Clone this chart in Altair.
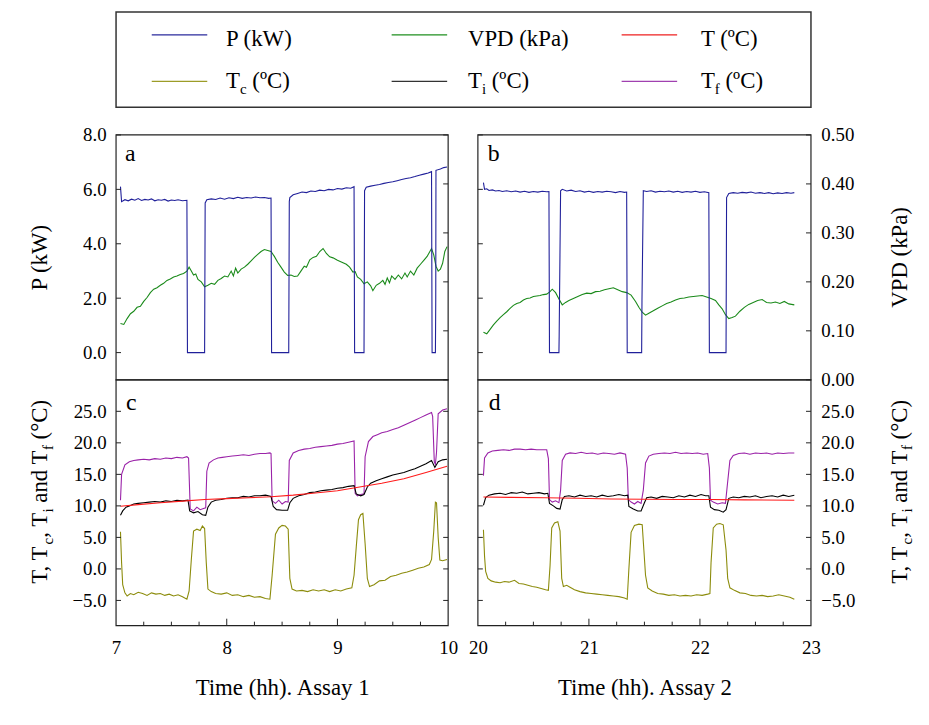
import altair as alt
import pandas as pd

FONT = "Liberation Serif"

# ---------------- data ----------------
# Assay 1 (panels a and c), time in hours
A_P_T = [7.04, 7.05, 7.08, 7.11, 7.14, 7.17, 7.20, 7.23, 7.26, 7.29, 7.32, 7.35, 7.38, 7.41, 7.44, 7.47, 7.50, 7.53, 7.56, 7.60, 7.64,
         7.645, 7.80, 7.805, 7.82, 7.86, 7.90, 7.94, 7.98, 8.02, 8.06, 8.10, 8.14, 8.18, 8.22, 8.26, 8.30, 8.34, 8.38, 8.40,
         8.405, 8.56, 8.565, 8.57, 8.60, 8.64, 8.68, 8.72, 8.76, 8.80, 8.84, 8.88, 8.92, 8.96, 9.00, 9.04, 9.08, 9.12, 9.15,
         9.155, 9.24, 9.245, 9.26, 9.30, 9.34, 9.38, 9.42, 9.46, 9.50, 9.54, 9.58, 9.62, 9.66, 9.70, 9.74, 9.78, 9.82, 9.85,
         9.855, 9.885, 9.888, 9.89, 9.93, 9.96, 9.99]
A_P = [6.10, 5.55, 5.62, 5.58, 5.64, 5.60, 5.66, 5.59, 5.63, 5.61, 5.65, 5.58, 5.62, 5.60, 5.63, 5.57, 5.61, 5.59, 5.62, 5.58, 5.60,
       0.0, 0.0, 5.50, 5.62, 5.65, 5.63, 5.68, 5.64, 5.69, 5.66, 5.71, 5.67, 5.70, 5.68, 5.72, 5.69, 5.70, 5.67, 5.68,
       0.0, 0.0, 5.55, 5.70, 5.80, 5.85, 5.90, 5.88, 5.94, 5.92, 5.97, 5.95, 6.00, 5.98, 6.03, 6.01, 6.06, 6.04, 6.10,
       0.0, 0.0, 5.95, 6.08, 6.12, 6.15, 6.18, 6.22, 6.25, 6.28, 6.32, 6.36, 6.40, 6.43, 6.47, 6.52, 6.56, 6.60, 6.65,
       0.0, 0.0, 1.90, 6.70, 6.75, 6.80, 6.82]

A_VPD_T = [7.04, 7.07, 7.10, 7.13, 7.16, 7.19, 7.22, 7.25, 7.28, 7.31, 7.34, 7.37, 7.40, 7.43, 7.46, 7.49, 7.52, 7.55, 7.58, 7.61,
           7.64, 7.66, 7.68, 7.70, 7.72, 7.74, 7.77, 7.80, 7.83, 7.86, 7.89, 7.92, 7.95, 7.98, 8.01, 8.04, 8.06, 8.08, 8.10,
           8.13, 8.16, 8.19, 8.22, 8.25, 8.28, 8.31, 8.34, 8.37, 8.40, 8.43, 8.46, 8.49, 8.52, 8.55, 8.58, 8.61, 8.64, 8.67,
           8.70, 8.72, 8.75, 8.78, 8.81, 8.84, 8.87, 8.90, 8.93, 8.96, 9.00, 9.04, 9.08, 9.11, 9.14, 9.16, 9.18, 9.21, 9.24,
           9.27, 9.30, 9.32, 9.35, 9.38, 9.41, 9.43, 9.45, 9.47, 9.49, 9.52, 9.55, 9.58, 9.61, 9.63, 9.66, 9.69, 9.72, 9.75,
           9.78, 9.81, 9.83, 9.85, 9.87, 9.89, 9.91, 9.93, 9.95, 9.97, 9.99]
A_VPD = [0.115, 0.113, 0.125, 0.135, 0.140, 0.148, 0.150, 0.160, 0.168, 0.178, 0.185, 0.188, 0.193, 0.197, 0.203, 0.206, 0.210,
         0.212, 0.215, 0.217, 0.222, 0.230, 0.222, 0.214, 0.216, 0.205, 0.200, 0.190, 0.193, 0.197, 0.195, 0.203, 0.207, 0.212,
         0.210, 0.222, 0.212, 0.228, 0.218, 0.226, 0.230, 0.236, 0.243, 0.250, 0.256, 0.262, 0.266, 0.264, 0.262, 0.252, 0.240,
         0.230, 0.220, 0.213, 0.214, 0.211, 0.212, 0.222, 0.232, 0.230, 0.245, 0.250, 0.252, 0.262, 0.268, 0.258, 0.251, 0.249,
         0.244, 0.240, 0.236, 0.230, 0.220, 0.221, 0.210, 0.205, 0.196, 0.200, 0.192, 0.182, 0.193, 0.197, 0.203, 0.195, 0.208,
         0.198, 0.212, 0.205, 0.214, 0.206, 0.218, 0.210, 0.222, 0.214, 0.228, 0.236, 0.244, 0.252, 0.260, 0.268, 0.255, 0.232,
         0.222, 0.226, 0.238, 0.262, 0.272]

A_TF_T = [7.04, 7.05, 7.08, 7.12, 7.16, 7.20, 7.25, 7.30, 7.35, 7.40, 7.45, 7.50, 7.55, 7.60, 7.64, 7.655, 7.67, 7.70, 7.73, 7.76,
          7.79, 7.81, 7.82, 7.84, 7.88, 7.92, 7.96, 8.00, 8.05, 8.10, 8.15, 8.20, 8.25, 8.30, 8.35, 8.39, 8.40, 8.41, 8.44,
          8.47, 8.50, 8.53, 8.555, 8.565, 8.60, 8.65, 8.70, 8.75, 8.80, 8.85, 8.90, 8.95, 9.00, 9.05, 9.10, 9.15, 9.16, 9.18,
          9.21, 9.24, 9.25, 9.28, 9.32, 9.36, 9.40, 9.45, 9.50, 9.55, 9.60, 9.65, 9.70, 9.75, 9.80, 9.85, 9.86, 9.875, 9.885,
          9.895, 9.91, 9.95, 9.99]
A_TF = [10.9, 15.0, 16.5, 17.0, 17.2, 17.3, 17.4, 17.3, 17.5, 17.4, 17.6, 17.5, 17.7, 17.6, 17.8, 17.6, 9.5, 9.2, 9.8, 9.4,
        9.6, 9.7, 15.5, 16.8, 17.3, 17.6, 17.7, 17.8, 17.9, 18.0, 18.1, 18.0, 18.2, 18.3, 18.3, 18.4, 18.3, 10.8, 10.4,
        10.9, 10.3, 10.7, 10.6, 17.2, 18.4, 18.8, 19.0, 19.1, 19.3, 19.4, 19.5, 19.6, 19.8, 19.9, 20.1, 20.3, 12.0, 11.6,
        11.8, 11.9, 17.8, 20.2, 21.0, 21.3, 21.6, 21.8, 22.1, 22.4, 22.8, 23.2, 23.6, 24.0, 24.4, 24.8, 24.2, 17.0, 16.6,
        18.5, 24.6, 25.2, 25.4]

A_TI_T = [7.04, 7.06, 7.09, 7.12, 7.16, 7.20, 7.25, 7.30, 7.35, 7.40, 7.45, 7.50, 7.55, 7.60, 7.65, 7.665, 7.70, 7.74, 7.78, 7.81,
          7.83, 7.86, 7.90, 7.95, 8.00, 8.05, 8.10, 8.15, 8.20, 8.25, 8.30, 8.35, 8.40, 8.42, 8.45, 8.50, 8.55, 8.57, 8.60,
          8.65, 8.70, 8.75, 8.80, 8.85, 8.90, 8.95, 9.00, 9.05, 9.10, 9.15, 9.17, 9.21, 9.24, 9.27, 9.30, 9.35, 9.40, 9.45,
          9.50, 9.55, 9.60, 9.65, 9.70, 9.75, 9.80, 9.85, 9.88, 9.91, 9.95, 9.99]
A_TI = [8.5, 9.2, 9.8, 10.0, 10.3, 10.4, 10.5, 10.6, 10.7, 10.6, 10.8, 10.7, 10.9, 10.8, 10.9, 9.2, 8.9, 9.1, 8.6, 8.5,
        9.8, 10.6, 10.9, 11.0, 11.2, 11.3, 11.3, 11.5, 11.4, 11.6, 11.6, 11.7, 11.5, 9.9, 9.4, 9.3, 9.3, 10.5, 11.2,
        11.6, 11.8, 12.1, 12.2, 12.4, 12.5, 12.6, 12.8, 12.9, 13.1, 13.2, 11.9, 11.6, 11.8, 13.0, 13.6, 14.0, 14.3, 14.6,
        14.9, 15.1, 15.3, 15.6, 15.9, 16.3, 16.7, 17.2, 16.1, 17.0, 17.3, 17.4]

A_T_T = [7.04, 7.2, 7.4, 7.6, 7.8, 8.0, 8.2, 8.4, 8.6, 8.8, 9.0, 9.2, 9.4, 9.6, 9.8, 9.99]
A_T = [9.95, 10.2, 10.5, 10.75, 11.0, 11.15, 11.3, 11.45, 11.7, 12.05, 12.4, 13.0, 13.6, 14.3, 15.3, 16.3]

A_TC_T = [7.04, 7.05, 7.06, 7.08, 7.10, 7.13, 7.16, 7.20, 7.24, 7.28, 7.32, 7.36, 7.40, 7.44, 7.48, 7.52, 7.56, 7.60, 7.64,
          7.66, 7.68, 7.70, 7.73, 7.76, 7.78, 7.80, 7.815, 7.83, 7.86, 7.90, 7.95, 8.00, 8.05, 8.10, 8.15, 8.20, 8.25,
          8.30, 8.35, 8.39, 8.41, 8.44, 8.47, 8.50, 8.53, 8.555, 8.57, 8.59, 8.63, 8.68, 8.73, 8.78, 8.83, 8.88, 8.93,
          8.98, 9.03, 9.08, 9.13, 9.15, 9.17, 9.19, 9.21, 9.23, 9.25, 9.27, 9.29, 9.33, 9.38, 9.43, 9.48, 9.53, 9.58,
          9.63, 9.68, 9.73, 9.78, 9.83, 9.85, 9.87, 9.885, 9.895, 9.91, 9.925, 9.95, 9.99]
A_TC = [5.9, 1.0, -2.5, -3.8, -4.3, -3.9, -4.1, -3.7, -3.9, -4.2, -3.8, -4.0, -3.9, -4.2, -4.0, -4.3, -4.1, -4.4, -4.8,
        -3.5, 1.5, 6.0, 6.3, 6.1, 6.8, 6.4, 1.0, -3.2, -3.6, -3.9, -4.0, -3.8, -4.2, -4.1, -4.4, -4.2, -4.5,
        -4.4, -4.7, -4.8, -1.0, 5.5, 6.5, 6.9, 6.8, 6.3, -1.5, -3.2, -3.5, -3.4, -3.6, -3.3, -3.5, -3.3, -3.6,
        -3.3, -3.5, -3.2, -3.0, -1.0, 3.5, 7.8, 8.6, 8.8, 4.0, -1.5, -2.8, -2.5, -1.9, -1.8, -1.2, -1.0, -0.7,
        -0.5, -0.2, 0.1, 0.3, 0.7, 1.5, 6.0, 10.6, 10.5, 5.0, 1.4, 1.3, 1.5]

# Assay 2 (panels b and d)
B_P_T = [20.05, 20.06, 20.08, 20.10, 20.13, 20.16, 20.19, 20.22, 20.26, 20.30, 20.34, 20.38, 20.42, 20.46, 20.50, 20.54, 20.58,
         20.62, 20.64, 20.645, 20.73, 20.732, 20.745, 20.76, 20.80, 20.84, 20.88, 20.92, 20.96, 21.00, 21.04, 21.08, 21.12,
         21.16, 21.20, 21.24, 21.28, 21.32, 21.34, 21.345, 21.475, 21.478, 21.49, 21.52, 21.56, 21.60, 21.64, 21.68, 21.72,
         21.76, 21.80, 21.84, 21.88, 21.92, 21.96, 22.00, 22.04, 22.08, 22.085, 22.235, 22.24, 22.26, 22.30, 22.34, 22.38,
         22.42, 22.46, 22.50, 22.54, 22.58, 22.62, 22.66, 22.70, 22.74, 22.78, 22.82, 22.85]
B_P = [6.25, 6.00, 6.02, 5.96, 5.98, 5.94, 5.96, 5.92, 5.95, 5.91, 5.94, 5.90, 5.93, 5.89, 5.92, 5.90, 5.93,
       5.91, 5.92, 0.0, 0.0, 0.6, 5.95, 6.00, 5.94, 5.97, 5.92, 5.95, 5.90, 5.93, 5.89, 5.92, 5.90,
       5.93, 5.91, 5.88, 5.92, 5.89, 5.90, 0.0, 0.0, 1.9, 5.95, 5.92, 5.95, 5.90, 5.93, 5.91, 5.94,
       5.90, 5.93, 5.89, 5.92, 5.90, 5.93, 5.89, 5.91, 5.88, 0.0, 0.0, 5.70, 5.85, 5.88, 5.86, 5.89,
       5.87, 5.90, 5.86, 5.88, 5.85, 5.88, 5.84, 5.87, 5.85, 5.88, 5.86, 5.88]

B_VPD_T = [20.05, 20.08, 20.11, 20.14, 20.17, 20.20, 20.23, 20.26, 20.29, 20.32, 20.35, 20.38, 20.41, 20.44, 20.47, 20.50,
           20.53, 20.56, 20.59, 20.62, 20.65, 20.67, 20.70, 20.73, 20.76, 20.79, 20.82, 20.86, 20.90, 20.94, 20.98, 21.02,
           21.06, 21.10, 21.14, 21.18, 21.22, 21.26, 21.30, 21.34, 21.38, 21.42, 21.45, 21.48, 21.51, 21.54, 21.58, 21.62,
           21.66, 21.70, 21.74, 21.78, 21.82, 21.86, 21.90, 21.94, 21.98, 22.02, 22.06, 22.10, 22.14, 22.17, 22.20, 22.23,
           22.26, 22.29, 22.32, 22.36, 22.40, 22.44, 22.48, 22.52, 22.56, 22.60, 22.64, 22.68, 22.72, 22.76, 22.80, 22.85]
B_VPD = [0.097, 0.094, 0.103, 0.112, 0.120, 0.127, 0.133, 0.139, 0.146, 0.152, 0.156, 0.158, 0.163, 0.166, 0.167, 0.170,
         0.171, 0.172, 0.174, 0.175, 0.180, 0.185, 0.178, 0.165, 0.153, 0.158, 0.162, 0.166, 0.170, 0.174, 0.177, 0.176,
         0.180, 0.181, 0.184, 0.186, 0.188, 0.184, 0.180, 0.178, 0.173, 0.160, 0.148, 0.138, 0.132, 0.136, 0.141, 0.146,
         0.151, 0.156, 0.159, 0.163, 0.166, 0.167, 0.169, 0.170, 0.171, 0.172, 0.169, 0.166, 0.162, 0.153, 0.145, 0.133,
         0.125, 0.127, 0.130, 0.140, 0.148, 0.154, 0.158, 0.162, 0.164, 0.158, 0.157, 0.159, 0.156, 0.160, 0.155, 0.153]

B_TF_T = [20.05, 20.06, 20.09, 20.13, 20.18, 20.23, 20.28, 20.33, 20.38, 20.43, 20.48, 20.53, 20.58, 20.62, 20.635, 20.645,
          20.67, 20.70, 20.73, 20.745, 20.76, 20.79, 20.83, 20.88, 20.93, 20.98, 21.03, 21.08, 21.13, 21.18, 21.23, 21.28,
          21.33, 21.345, 21.355, 21.38, 21.41, 21.44, 21.47, 21.49, 21.51, 21.54, 21.58, 21.63, 21.68, 21.73, 21.78, 21.83,
          21.88, 21.93, 21.98, 22.03, 22.07, 22.085, 22.095, 22.12, 22.16, 22.20, 22.23, 22.245, 22.27, 22.30, 22.35,
          22.40, 22.45, 22.50, 22.55, 22.60, 22.65, 22.70, 22.75, 22.80, 22.85]
B_TF = [14.8, 17.6, 18.4, 18.7, 18.8, 18.9, 18.8, 19.0, 19.0, 18.9, 19.0, 18.9, 18.9, 18.9, 17.5, 11.0,
        10.6, 10.8, 10.5, 12.5, 17.2, 18.2, 18.4, 18.3, 18.5, 18.3, 18.4, 18.2, 18.4, 18.3, 18.2, 18.4,
        18.2, 16.0, 11.0, 10.6, 10.3, 10.7, 10.4, 12.5, 16.8, 17.9, 18.2, 18.3, 18.4, 18.3, 18.5, 18.3,
        18.4, 18.3, 18.4, 18.2, 18.3, 16.0, 10.9, 10.6, 10.3, 10.5, 10.4, 13.0, 17.2, 18.0, 18.3,
        18.4, 18.2, 18.4, 18.3, 18.4, 18.2, 18.4, 18.3, 18.4, 18.4]

B_TI_T = [20.05, 20.07, 20.10, 20.15, 20.20, 20.25, 20.30, 20.35, 20.40, 20.45, 20.50, 20.55, 20.60, 20.63, 20.645, 20.68,
          20.71, 20.74, 20.76, 20.78, 20.82, 20.87, 20.92, 20.97, 21.02, 21.07, 21.12, 21.17, 21.22, 21.27, 21.32, 21.35,
          21.36, 21.40, 21.44, 21.47, 21.50, 21.52, 21.56, 21.61, 21.66, 21.71, 21.76, 21.81, 21.86, 21.91, 21.96, 22.01,
          22.05, 22.08, 22.095, 22.13, 22.17, 22.21, 22.235, 22.26, 22.30, 22.35, 22.40, 22.45, 22.50, 22.55, 22.60,
          22.65, 22.70, 22.75, 22.80, 22.85]
B_TI = [10.1, 11.3, 11.7, 11.9, 12.0, 11.8, 12.1, 12.0, 12.2, 11.9, 12.0, 12.1, 11.9, 12.0, 10.4, 10.0,
        9.6, 9.5, 11.0, 11.5, 11.6, 11.4, 11.7, 11.5, 11.6, 11.4, 11.7, 11.5, 11.6, 11.8, 11.6, 11.7,
        9.9, 9.5, 9.2, 9.2, 10.5, 11.3, 11.4, 11.2, 11.5, 11.4, 11.3, 11.6, 11.4, 11.7, 11.5, 11.8,
        11.6, 11.6, 9.8, 9.4, 9.3, 9.0, 9.4, 11.2, 11.4, 11.3, 11.5, 11.4, 11.6, 11.3, 11.5,
        11.6, 11.4, 11.7, 11.5, 11.7]

B_T_T = [20.05, 20.3, 20.6, 20.9, 21.2, 21.5, 21.8, 22.1, 22.4, 22.85]
B_T = [11.4, 11.35, 11.3, 11.2, 11.1, 11.05, 11.0, 11.0, 10.95, 10.9]

B_TC_T = [20.05, 20.06, 20.07, 20.09, 20.12, 20.16, 20.20, 20.24, 20.28, 20.33, 20.37, 20.41, 20.45, 20.49, 20.53, 20.57,
          20.61, 20.635, 20.65, 20.665, 20.69, 20.72, 20.74, 20.755, 20.77, 20.80, 20.83, 20.87, 20.92, 20.97, 21.02,
          21.07, 21.12, 21.17, 21.22, 21.27, 21.32, 21.345, 21.36, 21.38, 21.41, 21.45, 21.48, 21.495, 21.51, 21.53,
          21.57, 21.62, 21.67, 21.72, 21.77, 21.82, 21.87, 21.92, 21.97, 22.02, 22.07, 22.09, 22.10, 22.12, 22.15,
          22.18, 22.21, 22.235, 22.25, 22.27, 22.31, 22.36, 22.41, 22.46, 22.51, 22.56, 22.61, 22.66, 22.71, 22.76,
          22.81, 22.85]
B_TC = [6.2, 2.0, -0.4, -1.5, -1.9, -2.1, -2.2, -2.0, -2.1, -1.8, -2.3, -2.4, -2.6, -2.8, -2.9, -3.1,
        -3.3, -3.4, 0.5, 6.5, 7.3, 7.5, 6.0, -1.5, -2.8, -2.6, -2.9, -3.3, -3.6, -3.8, -3.9,
        -4.0, -4.1, -4.2, -4.3, -4.4, -4.6, -4.8, 0.0, 5.8, 6.9, 7.1, 7.0, 3.0, -1.0, -3.0,
        -3.5, -3.9, -4.0, -4.2, -4.1, -4.3, -4.2, -4.3, -4.1, -4.2, -4.0, -3.9, 1.0, 6.5, 7.1,
        7.2, 7.0, 3.0, -1.5, -3.0, -3.4, -3.8, -3.9, -4.2, -4.3, -4.2, -4.4, -4.3, -4.1, -4.3,
        -4.5, -4.8]

# axis ticks / labels
P_TICKS = [0, 2, 4, 6, 8]
VPD_TICKS = [0.0, 0.1, 0.2, 0.3, 0.4, 0.5]
T_TICKS = [-5, 0, 5, 10, 15, 20, 25]
HOURS_1 = [7, 8, 9, 10]
HOURS_2 = [20, 21, 22, 23]
MAJOR_IN_1 = [8, 9]
MAJOR_IN_2 = [21, 22]
MINOR_1 = [7.25, 7.5, 7.75, 8.25, 8.5, 8.75, 9.25, 9.5, 9.75]
MINOR_2 = [20.25, 20.5, 20.75, 21.25, 21.5, 21.75, 22.25, 22.5, 22.75]

# legend labels: (segments [(text, is_subscript)], colour)
LEGEND = [
    ([("P (kW)", False)], "#2a2a9c"),
    ([("VPD (kPa)", False)], "#1f8f1f"),
    ([("T (ºC)", False)], "#ee2020"),
    ([("T", False), ("c", True), (" (ºC)", False)], "#9c9c28"),
    ([("T", False), ("i", True), (" (ºC)", False)], "#333333"),
    ([("T", False), ("f", True), (" (ºC)", False)], "#a040b0"),
]
T_TITLE = [("T, T", False), ("c", True), (", T", False), ("i", True), (" and T", False), ("f", True), (" (°C)", False)]

# ---------------- styles / layout ----------------
C_P, C_VPD, C_T, C_TC, C_TI, C_TF = "#20209a", "#1a8a1a", "#ff1a1a", "#8c8c0c", "#000000", "#9a22a8"
W1, W2, GAP, H1, H2 = 335, 336, 30, 247, 248
WT, HT = W1 + GAP + W2, H1 + H2
X2_0 = W1 + GAP
DOM_X1, DOM_X2 = [7, 10], [20, 23]
DOM_P, DOM_VPD, DOM_T = [-1, 8], [0, 0.5], [-9, 30]
TS, SUBS = 23, 15
LW = 1.1
FRAME = "#222222"

SX1 = dict(domain=DOM_X1, range=[0, W1])
SX2 = dict(domain=DOM_X2, range=[X2_0, WT])
SP = dict(domain=DOM_P, range=[H1, 0])
SV = dict(domain=DOM_VPD, range=[H1, 0])
ST = dict(domain=DOM_T, range=[HT, H1])

ADV = {" ": 250, ",": 250, "(": 333, ")": 333, "°": 400, "º": 310, "C": 667, "T": 611, "a": 444, "n": 500,
       "d": 500, "c": 444, "i": 278, "f": 333, "P": 556, "k": 500, "W": 944, "V": 722, "D": 722}


def tw(s, size):
    return sum(ADV.get(ch, 500) for ch in s) * size / 1000.0


def sc(d):
    return alt.Scale(domain=d["domain"], range=d["range"], nice=False, zero=False)


def txt(s, x, y, size, angle=0, align="left", baseline="alphabetic"):
    return alt.Chart(pd.DataFrame({"s": [s]})).mark_text(
        font=FONT, fontSize=size, angle=angle, align=align, baseline=baseline, color="black"
    ).encode(text="s:N", x=alt.value(x), y=alt.value(y))


def rot_title(segments, xc, yc, size=TS, sub=SUBS):
    total = sum(tw(t, sub if s else size) for t, s in segments)
    y = yc + total / 2.0
    x0 = xc + 0.33 * size
    out = []
    for t, s in segments:
        fs = sub if s else size
        stripped = t.lstrip(" ")
        lead = tw(t[: len(t) - len(stripped)], fs)
        out.append(txt(stripped, x0 + (0.24 * size if s else 0), y - lead, fs, angle=270))
        y -= tw(t, fs)
    return out


def hor_text(segments, x, y, size=TS, sub=SUBS):
    out = []
    for t, s in segments:
        fs = sub if s else size
        stripped = t.lstrip(" ")
        lead = tw(t[: len(t) - len(stripped)], fs)
        out.append(txt(stripped, x + lead, y + (0.24 * size if s else 0), fs))
        x += tw(t, fs)
    return out


def line(t, v, color, sx, sy, xaxis=None, yaxis=None):
    return alt.Chart(pd.DataFrame({"t": t, "v": v})).mark_line(color=color, strokeWidth=LW).encode(
        x=alt.X("t:Q", scale=sc(sx), axis=xaxis),
        y=alt.Y("v:Q", scale=sc(sy), axis=yaxis),
    )


def frame(sx, sy):
    d = pd.DataFrame({"t0": [sx["domain"][0]], "t1": [sx["domain"][1]],
                      "v0": [sy["domain"][0]], "v1": [sy["domain"][1]]})
    return alt.Chart(d).mark_rect(fillOpacity=0, stroke=FRAME, strokeWidth=1.2).encode(
        x=alt.X("t0:Q", scale=sc(sx), axis=None), x2="t1:Q",
        y=alt.Y("v0:Q", scale=sc(sy), axis=None), y2="v1:Q")


def yticks(vals, sy, x0, x1):
    return alt.Chart(pd.DataFrame({"v": vals})).mark_rule(color=FRAME, strokeWidth=1).encode(
        y=alt.Y("v:Q", scale=sc(sy), axis=None), x=alt.value(x0), x2=alt.value(x1))


def xticks(vals, sx, length):
    return alt.Chart(pd.DataFrame({"t": vals})).mark_rule(color=FRAME, strokeWidth=1).encode(
        x=alt.X("t:Q", scale=sc(sx), axis=None), y=alt.value(HT - length), y2=alt.value(HT))


def yaxis(vals, fmt, orient):
    return alt.Axis(values=vals, format=fmt, orient=orient, labelPadding=10, title=None,
                    ticks=False, tickSize=0, domain=False, grid=False)


def xaxis(vals, title):
    return alt.Axis(values=vals, format="d", orient="bottom", labelFlush=False, labelPadding=13, title=title,
                    titlePadding=19, titleFontSize=TS, ticks=False, tickSize=0, domain=False, grid=False)


layers = []
# ---- panel a ----
layers += [
    line(A_VPD_T, A_VPD, C_VPD, SX1, SV),
    line(A_P_T, A_P, C_P, SX1, SP, yaxis=yaxis(P_TICKS, ".1f", "left")),
    yticks(P_TICKS, SP, 0, 5),
    yticks(VPD_TICKS, SV, W1 - 5, W1),
    frame(SX1, SP),
    txt("a", 9, 26, 24),
]
layers += rot_title([("P (kW)", False)], -77, H1 / 2)
# ---- panel b ----
layers += [
    line(B_VPD_T, B_VPD, C_VPD, SX2, SV, yaxis=yaxis(VPD_TICKS, ".2f", "right")),
    line(B_P_T, B_P, C_P, SX2, SP),
    yticks(P_TICKS, SP, X2_0, X2_0 + 5),
    yticks(VPD_TICKS, SV, WT - 5, WT),
    frame(SX2, SV),
    txt("b", X2_0 + 10, 26, 24),
]
layers += rot_title([("VPD (kPa)", False)], WT + 89, H1 / 2)
# ---- panel c ----
layers += [
    line(A_TF_T, A_TF, C_TF, SX1, ST, xaxis=xaxis(HOURS_1, "Time (hh). Assay 1"), yaxis=yaxis(T_TICKS, ".1f", "left")),
    line(A_TC_T, A_TC, C_TC, SX1, ST),
    line(A_TI_T, A_TI, C_TI, SX1, ST),
    line(A_T_T, A_T, C_T, SX1, ST),
    yticks(T_TICKS, ST, 0, 5),
    yticks(T_TICKS, ST, W1 - 5, W1),
    xticks(MAJOR_IN_1, SX1, 7),
    xticks(MINOR_1, SX1, 4),
    frame(SX1, ST),
    txt("c", 10, H1 + 30, 24),
]
layers += rot_title(T_TITLE, -77, H1 + 113)
# ---- panel d ----
layers += [
    line(B_TF_T, B_TF, C_TF, SX2, ST, xaxis=xaxis(HOURS_2, "Time (hh). Assay 2"), yaxis=yaxis(T_TICKS, ".1f", "right")),
    line(B_TC_T, B_TC, C_TC, SX2, ST),
    line(B_TI_T, B_TI, C_TI, SX2, ST),
    line(B_T_T, B_T, C_T, SX2, ST),
    yticks(T_TICKS, ST, X2_0, X2_0 + 5),
    yticks(T_TICKS, ST, WT - 5, WT),
    xticks(MAJOR_IN_2, SX2, 7),
    xticks(MINOR_2, SX2, 4),
    frame(SX2, ST),
    txt("d", X2_0 + 11, H1 + 30, 24),
]
layers += rot_title(T_TITLE, WT + 89, H1 + 113)

# ---- legend (box above the panels) ----
LEG_TOP, LEG_BOTTOM = -124, -28
COL_LINE_X = [36, 278, 510]
COL_TEXT_X = [111, 355, 590]
ROW_LINE_Y = [-101, -54]
ROW_TEXT_Y = [-90, -47]
layers.append(
    alt.Chart(pd.DataFrame({"k": [0]})).mark_rect(fillOpacity=0, stroke="#333333", strokeWidth=1.5).encode(
        x=alt.value(0), x2=alt.value(WT), y=alt.value(LEG_TOP), y2=alt.value(LEG_BOTTOM))
)
for i, (segs, col) in enumerate(LEGEND):
    r, c = divmod(i, 3)
    layers.append(
        alt.Chart(pd.DataFrame({"k": [0]})).mark_rule(color=col, strokeWidth=1.4).encode(
            x=alt.value(COL_LINE_X[c]), x2=alt.value(COL_LINE_X[c] + 56), y=alt.value(ROW_LINE_Y[r]))
    )
    layers.extend(hor_text(segs, COL_TEXT_X[c], ROW_TEXT_Y[r]))

chart = alt.layer(*layers).resolve_scale(x="independent", y="independent").properties(
    width=WT, height=HT, padding={"left": 21, "top": 0, "right": 5, "bottom": 5}
).configure_view(strokeWidth=0).configure_axis(
    labelFont=FONT, labelFontSize=19, labelColor="black", titleFont=FONT, titleFontSize=TS,
    titleColor="black", titleFontWeight="normal"
)

chart.save("out.html", embed_options={"renderer": "svg", "actions": False})
